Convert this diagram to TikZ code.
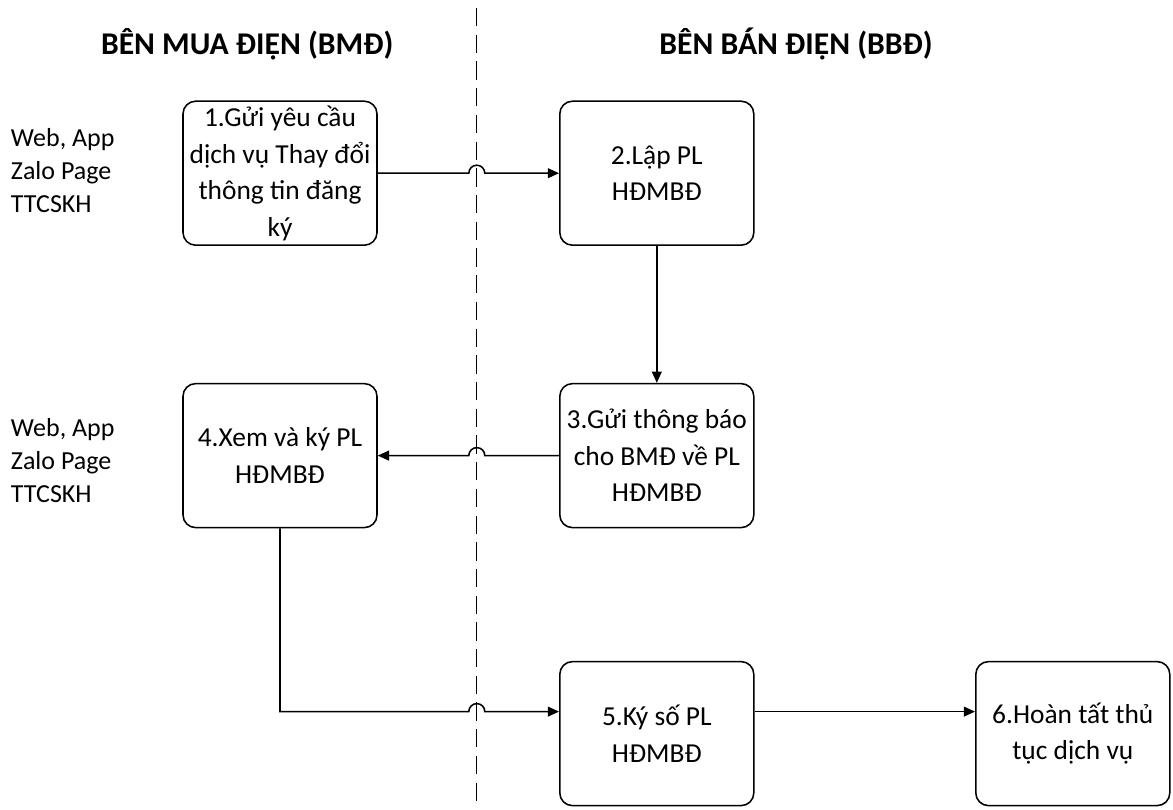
\documentclass[tikz,border=0pt]{standalone}
\usepackage{fontspec}
\setmainfont{Carlito}
\usepackage{tikz}
\usetikzlibrary{arrows.meta, positioning, calc}

\tikzset{
  stepbox/.style={draw, line width=1.1pt, rounded corners=9pt, align=center,
    minimum width=4.85cm, minimum height=3.6cm,
    font=\fontsize{19.5}{26}\selectfont},
  flow/.style={line width=1.1pt, -{Triangle[length=8pt,width=7pt]}},
  sidelabel/.style={align=left, anchor=north west, font=\fontsize{18.5}{23.5}\selectfont},
  header/.style={anchor=base, font=\fontsize{22.5}{28}\selectfont\bfseries}
}

\begin{document}
\begin{tikzpicture}
  \useasboundingbox (0,0) rectangle (29.325,-20.225);

  % headers and divider
  \node[header] (hmua) at (6.18,-1.35) {BÊN MUA ĐIỆN (BMĐ)};
  \node[header] (hban) at (19.9,-1.35) {BÊN BÁN ĐIỆN (BBĐ)};
  \coordinate (divtop) at (11.92,-0.2);
  \coordinate (divbot) at (11.92,-20.225);
  \draw[line width=0.8pt, dash pattern=on 13pt off 6pt] (divtop) -- (divbot);

  % channels
  \node[sidelabel] (kenh1) at (0.15,-3.08) {Web, App\\Zalo Page\\TTCSKH};
  \node[sidelabel] (kenh2) at (0.15,-10.33) {Web, App\\Zalo Page\\TTCSKH};

  % steps
  \node[stepbox] (b1) at (7.0,-4.33) {1.Gửi yêu cầu\\dịch vụ Thay đổi\\thông tin đăng\\ký};
  \node[stepbox] (b2) at (16.42,-4.33) {2.Lập PL\\HĐMBĐ};
  \node[stepbox] (b3) at (16.42,-11.39) {3.Gửi thông báo\\cho BMĐ về PL\\HĐMBĐ};
  \node[stepbox] (b4) at (7.0,-11.39) {4.Xem và ký PL\\HĐMBĐ};
  \node[stepbox] (b5) at (16.42,-18.34) {5.Ký số PL\\HĐMBĐ};
  \node[stepbox] (b6) at (26.82,-18.34) {6.Hoàn tất thủ\\tục dịch vụ};

  \coordinate (in5) at ($(b5.west)+(0,0.55)$);

  % connectors (hop over the divider)
  \draw[flow] (b1.east) -- ($(b1.east -| divtop)+(-0.2,0)$)
    arc[start angle=180, end angle=0, radius=0.2] -- (b2.west);
  \draw[flow] (b2.south) -- (b3.north);
  \draw[flow] (b3.west) -- ($(b3.west -| divtop)+(0.2,0)$)
    arc[start angle=0, end angle=180, radius=0.2] -- (b4.east);
  \draw[flow] (b4.south) |- ($(in5 -| divtop)+(-0.2,0)$)
    arc[start angle=180, end angle=0, radius=0.2] -- (in5);
  \draw[flow] (b5.east |- in5) -- (b6.west |- in5);
\end{tikzpicture}
\end{document}
